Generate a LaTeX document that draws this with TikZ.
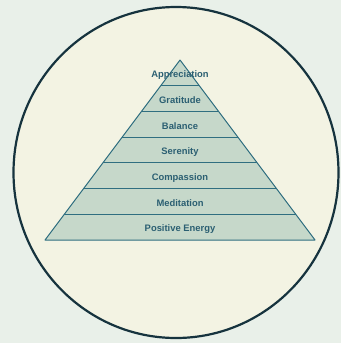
\documentclass[tikz,border=0pt]{standalone}
\usepackage{fontspec}
\setmainfont{Liberation Sans}
\usepackage{tikz}
\usetikzlibrary{positioning}
\definecolor{bgcolor}{HTML}{E9F0E9}
\definecolor{circfill}{HTML}{F3F3E3}
\definecolor{circline}{HTML}{16333E}
\definecolor{pyrfill}{HTML}{C6D8CA}
\definecolor{pyrline}{HTML}{2F6E80}
\definecolor{labeltext}{HTML}{2B5F72}

\begin{document}
\begin{tikzpicture}[x=1pt, y=-1pt,
    tier/.style={text=labeltext, font=\bfseries\fontsize{9.4}{11}\selectfont, inner sep=0pt}]
  \fill[bgcolor] (0,0) rectangle (341,343);
  \useasboundingbox (0,0) rectangle (341,343);

  % outer disc
  \draw[circline, fill=circfill, line width=2.2pt] (176,172.5) ellipse [x radius=162.5pt, y radius=165.5pt];

  % pyramid body
  \filldraw[pyrline, fill=pyrfill, line width=1pt, line join=round] (180,60) -- (315,240) -- (45,240) -- cycle;

  % tier lines
  \draw[pyrline, line width=1pt] (160.7,85.7)  -- (199.3,85.7);
  \draw[pyrline, line width=1pt] (141.4,111.4) -- (218.6,111.4);
  \draw[pyrline, line width=1pt] (122.1,137.1) -- (237.9,137.1);
  \draw[pyrline, line width=1pt] (102.9,162.9) -- (257.1,162.9);
  \draw[pyrline, line width=1pt] (83.6,188.6)  -- (276.4,188.6);
  \draw[pyrline, line width=1pt] (64.3,214.3)  -- (295.7,214.3);

  \node[tier] (t1) at (180,74.8)  {Appreciation};
  \node[tier] (t2) at (180,100.5) {Gratitude};
  \node[tier] (t3) at (180,126.2) {Balance};
  \node[tier] (t4) at (180,151.9) {Serenity};
  \node[tier] (t5) at (180,177.6) {Compassion};
  \node[tier] (t6) at (180,203.3) {Meditation};
  \node[tier] (t7) at (180,229.0) {Positive Energy};
\end{tikzpicture}
\end{document}
